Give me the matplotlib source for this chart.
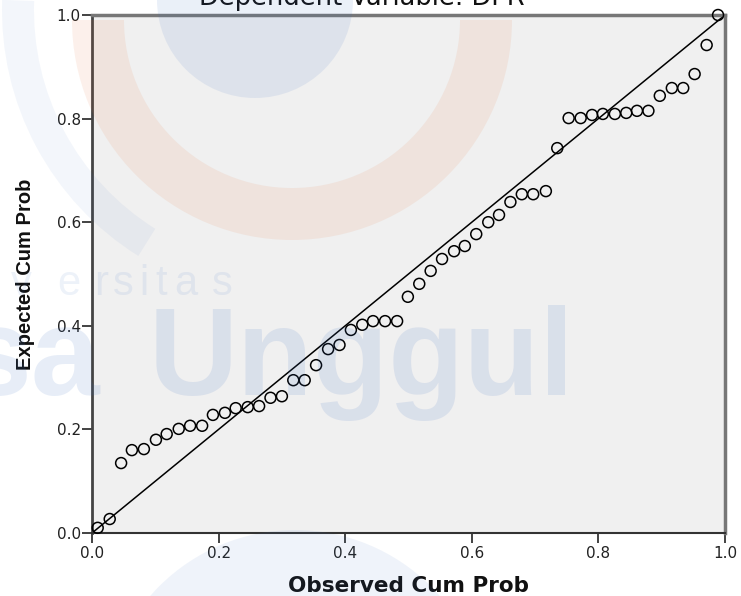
import matplotlib
matplotlib.use("Agg")
import matplotlib.pyplot as plt
from matplotlib.patches import Circle, Wedge

plt.rcParams['font.family'] = ['DejaVu Sans']

# P-P plot data
observed = [0.009, 0.028, 0.046, 0.063, 0.082, 0.101, 0.118, 0.137, 0.155, 0.174,
            0.191, 0.210, 0.227, 0.246, 0.264, 0.282, 0.300, 0.318, 0.336, 0.354,
            0.373, 0.391, 0.409, 0.427, 0.444, 0.463, 0.482, 0.499, 0.517, 0.535,
            0.553, 0.572, 0.589, 0.607, 0.626, 0.643, 0.661, 0.679, 0.697, 0.717,
            0.735, 0.753, 0.772, 0.790, 0.807, 0.826, 0.844, 0.861, 0.879, 0.897,
            0.916, 0.934, 0.952, 0.971, 0.989]
expected = [0.010, 0.027, 0.135, 0.160, 0.162, 0.180, 0.191, 0.201, 0.207, 0.207,
            0.228, 0.232, 0.241, 0.243, 0.245, 0.261, 0.264, 0.295, 0.295, 0.324,
            0.355, 0.363, 0.392, 0.402, 0.409, 0.409, 0.409, 0.456, 0.481, 0.506,
            0.529, 0.544, 0.554, 0.577, 0.600, 0.614, 0.639, 0.654, 0.654, 0.660,
            0.743, 0.801, 0.801, 0.807, 0.809, 0.809, 0.811, 0.815, 0.815, 0.844,
            0.859, 0.859, 0.886, 0.942, 1.000]
ticks = [0.0, 0.2, 0.4, 0.6, 0.8, 1.0]
tick_labels = ['0.0', '0.2', '0.4', '0.6', '0.8', '1.0']

W, H = 741, 596
fig = plt.figure(figsize=(W / 100, H / 100), dpi=100)
ax = fig.add_axes([92 / W, 1 - 533 / H, (725 - 92) / W, (533 - 15) / H])
ax.set_facecolor('#f0f0f0')

ax.plot([0, 1], [0, 1], color='black', lw=1.1, zorder=2)
ax.scatter(observed, expected, s=62, facecolors='none', edgecolors='black',
           linewidths=1.1, zorder=3, clip_on=False)

ax.set_xlim(0, 1)
ax.set_ylim(0, 1)
ax.set_xticks(ticks)
ax.set_xticklabels(tick_labels)
ax.set_yticks(ticks)
ax.set_yticklabels(tick_labels)
ax.tick_params(direction='out', length=7, width=1.2, labelsize=11, colors='#222222',
               labelcolor='#222222')
ax.tick_params(axis='y', pad=1)
ax.tick_params(axis='x', pad=2)

ax.spines['left'].set_color('#444444')
ax.spines['left'].set_linewidth(2)
ax.spines['bottom'].set_color('#333333')
ax.spines['bottom'].set_linewidth(1.5)
for side in ['top', 'right']:
    ax.spines[side].set_color('#777777')
    ax.spines[side].set_linewidth(2.5)

fig.text(409 / W, 1 - 592 / H, 'Observed Cum Prob', fontsize=15.5, fontweight='bold',
         ha='center', va='baseline', color='#111111')
fig.text(26 / W, 1 - 274 / H, 'Expected Cum Prob', fontsize=14.5, fontweight='bold',
         rotation=90, ha='center', va='center', color='#111111',
         fontfamily='Liberation Sans')

# title is clipped at the top edge in the reference
fig.text(362 / W, 1 - 5 / H, 'Dependent Variable: DPR', fontsize=18.5,
         ha='center', va='baseline', color='#111111')

# faint watermark overlay (pixel coords, y measured from top)
wm = fig.add_axes([0, 0, 1, 1], zorder=5)
wm.set_xlim(0, W)
wm.set_ylim(H, 0)
wm.axis('off')
wm.patch.set_alpha(0)
blue = '#3a6fc4'
wm.add_patch(Circle((255, 0), 98, color=blue, alpha=0.1, lw=0))
wm.add_patch(Wedge((292, 20), 220, 0, 180, width=52, color='#e8743b', alpha=0.1, lw=0))
wm.add_patch(Wedge((292, 10), 290, 122, 182, width=32, color=blue, alpha=0.06, lw=0))
wm.add_patch(Circle((295, 722), 192, color=blue, alpha=0.08, lw=0))
for ch, cx in zip('versitas', [21, 69, 101, 123, 144, 161, 186, 222]):
    wm.text(cx, 295, ch, fontsize=30, color=blue, alpha=0.09, ha='center',
            va='baseline', fontfamily='Liberation Sans')
wm.text(100, 395, 'sa', fontsize=89, fontweight='bold', color=blue, alpha=0.12,
        ha='right', va='baseline', fontfamily='Liberation Sans')
wm.text(574, 395, 'Unggul', fontsize=89, fontweight='bold', color=blue, alpha=0.12,
        ha='right', va='baseline', fontfamily='Liberation Sans')

fig.savefig('out.png', dpi=100)
